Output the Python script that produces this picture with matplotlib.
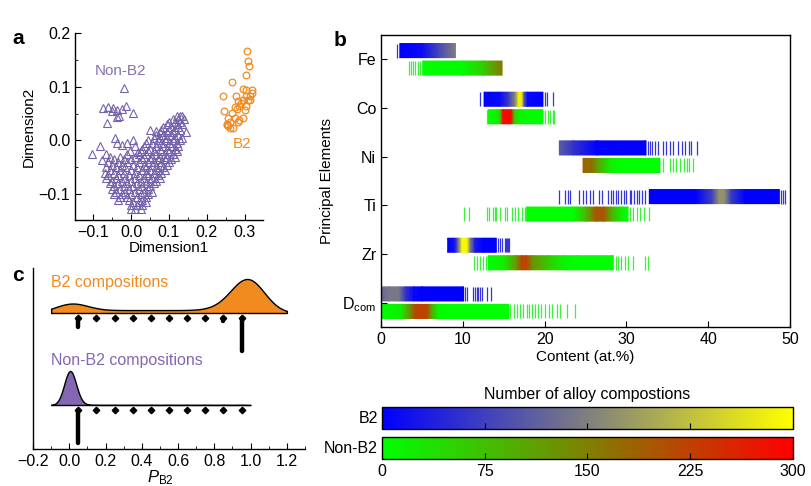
import numpy as np
import matplotlib
matplotlib.use("Agg")
import matplotlib.pyplot as plt
from matplotlib.colors import LinearSegmentedColormap, Normalize
from matplotlib.cm import ScalarMappable
from matplotlib.ticker import MultipleLocator

plt.rcParams['font.family'] = ['Liberation Sans', 'DejaVu Sans']
plt.rcParams['mathtext.fontset'] = 'custom'
plt.rcParams['mathtext.rm'] = 'Liberation Sans'
plt.rcParams['mathtext.it'] = 'Liberation Sans:italic'
plt.rcParams['axes.linewidth'] = 1.0

PURPLE = '#7462AC'
ORANGE = '#F18A1F'
FS = 11

# ---------------- panel a data ----------------
nonb2_rows = [
    (0.045, [0.12, 0.13, 0.135]),
    (0.040, [0.11, 0.125, 0.14]),
    (0.035, [0.10, 0.115, 0.13]),
    (0.030, [0.095, 0.12, 0.135]),
    (0.025, [0.085, 0.105, 0.125]),
    (0.020, [0.08, 0.10, 0.115, 0.13]),
    (0.015, [0.075, 0.095, 0.11, 0.145]),
    (0.010, [0.065, 0.085, 0.105, 0.125]),
    (0.005, [0.06, 0.075, 0.095, 0.115, 0.135]),
    (0.000, [0.045, 0.07, 0.09, 0.11, 0.13]),
    (-0.005, [0.04, 0.055, 0.08, 0.10, 0.12]),
    (-0.010, [0.035, 0.065, 0.085, 0.105, 0.125]),
    (-0.015, [0.03, 0.05, 0.075, 0.095, 0.115]),
    (-0.020, [0.025, 0.045, 0.06, 0.08, 0.10, 0.12]),
    (-0.025, [-0.01, 0.02, 0.04, 0.065, 0.09, 0.11]),
    (-0.030, [-0.055, -0.03, 0.01, 0.035, 0.055, 0.075, 0.095, 0.115]),
    (-0.035, [-0.045, -0.02, 0.0, 0.03, 0.05, 0.07, 0.09, 0.105]),
    (-0.040, [-0.06, -0.035, -0.01, 0.02, 0.045, 0.06, 0.08, 0.10]),
    (-0.045, [-0.05, -0.025, 0.005, 0.035, 0.055, 0.075, 0.095]),
    (-0.050, [-0.065, -0.04, -0.015, 0.015, 0.04, 0.065, 0.085]),
    (-0.055, [-0.055, -0.03, 0.0, 0.03, 0.05, 0.07, 0.09]),
    (-0.060, [-0.07, -0.045, -0.02, 0.01, 0.04, 0.06, 0.08]),
    (-0.065, [-0.06, -0.035, -0.005, 0.02, 0.045, 0.07]),
    (-0.070, [-0.065, -0.04, -0.015, 0.01, 0.035, 0.055, 0.075]),
    (-0.075, [-0.05, -0.025, 0.0, 0.025, 0.05, 0.065]),
    (-0.080, [-0.055, -0.035, -0.01, 0.015, 0.04, 0.06]),
    (-0.085, [-0.045, -0.02, 0.005, 0.03, 0.05]),
    (-0.090, [-0.05, -0.03, -0.005, 0.02, 0.045]),
    (-0.095, [-0.04, -0.015, 0.01, 0.035, 0.055]),
    (-0.100, [-0.045, -0.025, 0.0, 0.025, 0.045]),
    (-0.105, [-0.03, -0.01, 0.015, 0.04]),
    (-0.110, [-0.035, -0.005, 0.03]),
    (-0.115, [0.005, 0.02, 0.04]),
    (-0.120, [0.0, 0.015, 0.03]),
    (-0.128, [0.0, 0.01, 0.025]),
]
nonb2_extra_dim1 = [-0.02, -0.075, -0.060, -0.047, -0.037, -0.025, -0.014, 0.004, -0.063,
                    -0.038, -0.031, -0.050, -0.102, -0.082, -0.078, -0.065, -0.043, -0.038,
                    -0.025, -0.012, 0.005, 0.010, -0.003, 0.019, 0.049, 0.067]
nonb2_extra_dim2 = [0.097, 0.060, 0.062, 0.060, 0.057, 0.058, 0.065, 0.051, 0.032,
                    0.043, 0.046, 0.055, -0.025, -0.011, -0.036, -0.025, 0.004, -0.005,
                    -0.008, -0.005, 0.001, -0.011, -0.020, -0.022, 0.020, 0.017]
b2_dim1 = [0.306, 0.309, 0.311, 0.304, 0.267, 0.243, 0.296, 0.304, 0.318, 0.277, 0.304,
           0.314, 0.282, 0.296, 0.313, 0.273, 0.286, 0.302, 0.245, 0.265, 0.300, 0.256,
           0.274, 0.294, 0.260, 0.282, 0.254, 0.256, 0.260, 0.268, 0.284, 0.309, 0.252,
           0.290, 0.320, 0.279]
b2_dim2 = [0.166, 0.147, 0.139, 0.122, 0.108, 0.082, 0.096, 0.094, 0.093, 0.082, 0.082,
           0.083, 0.073, 0.076, 0.076, 0.063, 0.065, 0.065, 0.054, 0.051, 0.057, 0.042,
           0.042, 0.042, 0.035, 0.035, 0.029, 0.026, 0.023, 0.023, 0.039, 0.076, 0.030,
           0.070, 0.088, 0.058]

# ---------------- panel b data ----------------
elements = ['Fe', 'Co', 'Ni', 'Ti', 'Zr', 'D$_{\\rm com}$']
b2_band = {
    'Fe': ([2.3, 5.0, 7.0, 9.1], [0, 15, 80, 150]),
    'Co': ([12.6, 14.5, 15.5, 16.4, 16.8, 17.2, 17.5, 17.9, 19.8], [0, 10, 60, 160, 280, 280, 100, 10, 0]),
    'Ni': ([21.8, 23.5, 26.4, 32.4], [110, 60, 0, 0]),
    'Ti': ([32.8, 38.5, 40.5, 41.3, 42.0, 42.8, 44.5, 48.7], [0, 0, 80, 170, 170, 70, 0, 0]),
    'Zr': ([8.15, 9.0, 9.5, 9.9, 10.5, 10.9, 11.5, 12.5, 14.1], [0, 20, 150, 290, 290, 150, 30, 0, 0]),
    'D': ([0.0, 1.0, 2.2, 3.0, 4.0, 5.0, 10.1], [120, 140, 140, 60, 10, 0, 0]),
}
b2_rug = {
    'Fe': [2.0],
    'Co': [12.1, 20.0, 20.3, 21.0],
    'Ni': [32.6, 32.9, 33.1, 33.5, 33.9, 34.5, 34.9, 35.3, 35.7, 36.3, 36.8, 37.2, 37.6, 37.9, 38.6],
    'Ti': [21.7, 22.5, 22.8, 23.1, 24.2, 24.7, 25.1, 25.5, 25.95, 26.7, 27.0, 27.8, 28.1, 28.4,
           28.7, 29.0, 29.4, 29.7, 30.0, 30.4, 30.6, 30.9, 31.3, 31.6, 31.9, 32.3, 48.9, 49.2, 49.4],
    'Zr': [14.34, 14.55, 14.76, 15.2, 15.3, 15.4, 15.5, 15.6],
    'D': [10.3, 10.5, 11.3, 11.5, 11.7, 11.9, 12.1, 12.3, 12.9, 13.5],
}
nonb2_band = {
    'Fe': ([5.1, 10.0, 12.5, 14.8], [0, 5, 60, 160]),
    'Co': ([13.1, 14.2, 14.6, 14.9, 15.9, 16.3, 17.0, 19.8], [0, 20, 60, 290, 290, 60, 10, 0]),
    'Ni': ([24.7, 25.8, 26.5, 28.0, 29.5, 34.1], [180, 170, 110, 20, 0, 0]),
    'Ti': ([17.8, 23.5, 25.0, 26.3, 27.2, 28.2, 29.5, 30.2], [0, 0, 80, 200, 200, 90, 10, 0]),
    'Zr': ([13.1, 15.0, 16.5, 17.2, 17.8, 18.5, 20.5, 22.5, 24.0, 28.4], [0, 20, 120, 220, 220, 130, 60, 10, 0, 0]),
    'D': ([0.0, 2.5, 3.7, 4.2, 5.6, 6.2, 7.0, 8.0, 15.6], [0, 20, 150, 220, 220, 100, 10, 0, 0]),
}
nonb2_rug = {
    'Fe': [3.4, 3.7, 3.9, 4.2, 4.5, 4.8],
    'Co': [12.9, 20.0, 20.4, 20.6, 21.0, 21.2],
    'Ni': [34.5, 35.3, 35.7, 36.1, 36.6, 37.0, 37.4, 37.7, 38.1],
    'Ti': [10.1, 10.8, 13.0, 13.2, 13.7, 13.9, 14.1, 14.5, 15.2, 15.4, 16.0, 16.4, 16.8, 17.2, 17.6,
           30.4, 30.8, 31.3, 31.7, 32.1, 32.8],
    'Zr': [11.4, 11.7, 12.1, 12.5, 12.8, 28.7, 29.0, 29.4, 29.8, 30.2, 30.8, 32.3, 32.6],
    'D': [15.8, 16.2, 16.6, 17.0, 17.4, 17.8, 18.1, 18.4, 18.8, 19.2, 19.6, 20.0, 20.5, 20.9,
          21.5, 21.9, 22.7, 23.7],
}
row_keys = ['Fe', 'Co', 'Ni', 'Ti', 'Zr', 'D']
cbar_ticks = [0, 75, 150, 225, 300]

# ---------------- panel c data ----------------
p_bin_edges = [0.0, 0.1, 0.2, 0.3, 0.4, 0.5, 0.6, 0.7, 0.8, 0.9, 1.0]
b2_p_values = [0.0, 0.01, 0.02, 0.04, 0.15, 0.25, 0.35, 0.45, 0.55, 0.65, 0.75, 0.85,
               0.92, 0.95, 0.97, 0.98, 0.99, 1.0]
b2_p_weights = [3, 2, 1, 1, 1, 1, 1, 1, 1, 1, 1, 2, 1, 2, 3, 4, 6, 10]
nonb2_p_values = [0.0, 0.005, 0.01, 0.02, 0.03, 0.05, 0.08, 0.15, 0.25, 0.35, 0.45, 0.55,
                  0.65, 0.75, 0.85, 0.95]
nonb2_p_weights = [150, 60, 40, 20, 10, 4, 1, 1, 1, 1, 1, 1, 1, 1, 1, 1]

# ---------------- figure ----------------
W, H = 812, 486
fig = plt.figure(figsize=(W / 100, H / 100), dpi=100)


def rect(l, t, r, b):
    return [l / W, 1 - b / H, (r - l) / W, (b - t) / H]


# ---- panel a ----
axa = fig.add_axes(rect(75, 33, 263, 220))
nx = []
ny = []
for yv, xs in nonb2_rows:
    for xv in xs:
        nx.append(xv)
        ny.append(yv)
nx += nonb2_extra_dim1
ny += nonb2_extra_dim2
axa.plot(nx, ny, ls='none', marker='^', ms=5.8, mfc='none', mec=PURPLE, mew=0.8)
axa.plot(b2_dim1, b2_dim2, ls='none', marker='o', ms=4.8, mfc='none', mec=ORANGE, mew=0.9)
axa.set_xlim(-0.148, 0.348)
axa.set_ylim(-0.148, 0.2)
axa.set_xticks([-0.1, 0.0, 0.1, 0.2, 0.3])
axa.set_yticks([-0.1, 0.0, 0.1, 0.2])
axa.xaxis.set_minor_locator(MultipleLocator(0.05))
axa.yaxis.set_minor_locator(MultipleLocator(0.05))
axa.tick_params(which='both', direction='in', labelsize=FS + 0.5)
axa.tick_params(which='major', length=4)
axa.tick_params(which='minor', length=2)
for s in ['top', 'right']:
    axa.spines[s].set_visible(False)
axa.set_xlabel('Dimension1', fontsize=FS, labelpad=1)
axa.set_ylabel('Dimension2', fontsize=FS, labelpad=2)
axa.text(-0.027, 0.13, 'Non-B2', color='#8470B6', fontsize=FS, ha='center', va='center')
axa.text(0.294, -0.006, 'B2', color=ORANGE, fontsize=FS, ha='center', va='center')

# ---- panel b ----
cmap_b2 = LinearSegmentedColormap.from_list('b2', ['#0000FF', '#FFFF00'])
cmap_nb2 = LinearSegmentedColormap.from_list('nb2', ['#00FF00', '#FF0000'])
norm = Normalize(0, 300)

axb = fig.add_axes(rect(381, 35, 790, 327))
bh = 0.29
for i, key in enumerate(row_keys):
    for off, cmap, band, rug, rugcol in [(-0.18, cmap_b2, b2_band, b2_rug, '#3535D8'),
                                         (0.18, cmap_nb2, nonb2_band, nonb2_rug, '#3CF03C')]:
        yc = i + off
        y0, y1 = yc - bh / 2, yc + bh / 2
        bx, bn = band[key]
        bx = np.asarray(bx, float)
        bn = np.asarray(bn, float)
        X = np.vstack([bx, bx])
        Y = np.vstack([np.full(bx.size, y0), np.full(bx.size, y1)])
        C = np.vstack([bn, bn])
        axb.pcolormesh(X, Y, C, cmap=cmap, norm=norm, shading='gouraud')
        axb.vlines(rug[key], y0, y1, colors=[rugcol], lw=0.9)
axb.set_xlim(0, 50)
axb.set_ylim(5.5, -0.5)
axb.set_yticks(range(6))
axb.set_yticklabels(elements)
axb.set_xticks([0, 10, 20, 30, 40, 50])
axb.tick_params(direction='in', labelsize=FS + 0.5, length=4)
axb.set_xlabel('Content (at.%)', fontsize=FS, labelpad=2)
axb.set_ylabel('Principal Elements', fontsize=FS, labelpad=6)

# ---- colorbars ----
cax1 = fig.add_axes(rect(382, 407, 793, 429))
cax2 = fig.add_axes(rect(382, 437, 793, 459))
cb1 = fig.colorbar(ScalarMappable(norm=norm, cmap=cmap_b2), cax=cax1, orientation='horizontal',
                   ticks=cbar_ticks)
cb2 = fig.colorbar(ScalarMappable(norm=norm, cmap=cmap_nb2), cax=cax2, orientation='horizontal',
                   ticks=cbar_ticks)
for cax in (cax1, cax2):
    cax.xaxis.set_ticks_position('bottom')
    cax.tick_params(direction='in', length=4, labelsize=FS + 0.5)
cax1.tick_params(labelbottom=False)
cb1.set_ticklabels([])
cax1.text(-0.01, 0.5, 'B2', transform=cax1.transAxes, ha='right', va='center', fontsize=FS + 0.5)
cax2.text(-0.01, 0.5, 'Non-B2', transform=cax2.transAxes, ha='right', va='center', fontsize=FS + 0.5)
cax1.set_title('Number of alloy compostions', fontsize=FS + 0.5, pad=6)

# ---- panel c ----
axc = fig.add_axes(rect(33, 268, 305, 449))
axc.set_xlim(-0.2, 1.3)
axc.set_ylim(0, 181)


def kde(values, weights, grid, bw):
    v = np.asarray(values, float)[:, None]
    w = np.asarray(weights, float)[:, None]
    k = w * np.exp(-0.5 * ((grid[None, :] - v) / bw) ** 2)
    return k.sum(0) / (w.sum() * bw * np.sqrt(2 * np.pi))


ridge_h = 34.0
stack_len = 33.0
bin_centers = (np.asarray(p_bin_edges[:-1]) + np.asarray(p_bin_edges[1:])) / 2
for base, vals, wts, bw, gmax, color in [
        (136, b2_p_values, b2_p_weights, 0.09, 1.2, ORANGE),
        (44, nonb2_p_values, nonb2_p_weights, 0.032, 1.0, '#8467B3')]:
    grid = np.linspace(-0.1, gmax, 400)
    d = kde(vals, wts, grid, bw)
    d = d / d.max() * ridge_h
    axc.fill_between(grid, base, base + d, facecolor=color, edgecolor='black', lw=1.0, zorder=2)
    counts, _ = np.histogram(vals, bins=p_bin_edges, weights=wts)
    top = base - 5
    for xc, c in zip(bin_centers, counts):
        L = c / counts.max() * stack_len
        if L > 1.5:
            axc.plot([xc, xc], [top, top - L], color='black', lw=3.2, solid_capstyle='round', zorder=3)
        axc.plot([xc], [top], marker='D', ms=3.3, color='black', zorder=3)

axc.text(-0.1, 166, 'B2 compositions', color=ORANGE, fontsize=FS + 0.5, ha='left', va='center')
axc.text(-0.1, 88, 'Non-B2 compositions', color='#8467B3', fontsize=FS + 0.5, ha='left', va='center')
axc.set_xticks([-0.2, 0.0, 0.2, 0.4, 0.6, 0.8, 1.0, 1.2])
axc.xaxis.set_minor_locator(MultipleLocator(0.1))
axc.tick_params(axis='x', which='both', direction='in', labelsize=FS + 0.5)
axc.tick_params(axis='x', which='major', length=4)
axc.tick_params(axis='x', which='minor', length=2)
axc.set_yticks([])
for s in ['top', 'right']:
    axc.spines[s].set_visible(False)
fig.text(160 / W, 1 - 468 / H, '$P_{\\rm B2}$', fontsize=FS + 1, ha='center', va='top')

# ---- panel letters ----
fig.text(12 / W, 1 - 38 / H, 'a', fontsize=15, fontweight='bold', va='center')
fig.text(334 / W, 1 - 41 / H, 'b', fontsize=15, fontweight='bold', va='center')
fig.text(12 / W, 1 - 275 / H, 'c', fontsize=15, fontweight='bold', va='center')

fig.savefig('out.png', dpi=100)
